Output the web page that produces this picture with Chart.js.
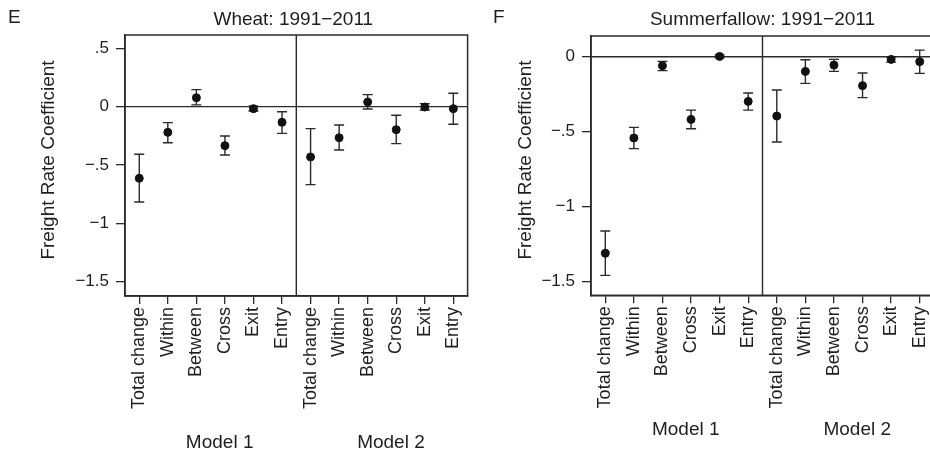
<!DOCTYPE html>
<html>
<head>
<meta charset="utf-8">
<script src="https://cdn.jsdelivr.net/npm/chart.js@4.4.1/dist/chart.umd.min.js"></script>
<style>
html,body{margin:0;padding:0;background:#fff;overflow:hidden;width:930px;height:452px;}
#wrapL{position:absolute;left:0;top:0;width:480px;height:452px;}
#wrapR{position:absolute;left:465px;top:0;width:480px;height:452px;}
</style>
</head>
<body>
<div id="wrapL"><canvas id="cL"></canvas></div>
<div id="wrapR"><canvas id="cR"></canvas></div>
<script>
// ---- data ----
const components = ['Total change','Within','Between','Cross','Exit','Entry'];
const models = ['Model 1','Model 2'];
const categories = components.concat(components);

const wheatCoef = [-0.614,-0.220, 0.077,-0.334,-0.017,-0.134, -0.431,-0.266, 0.040,-0.197,-0.003,-0.017];
const wheatLow  = [-0.817,-0.309, 0.015,-0.414,-0.037,-0.229, -0.668,-0.371,-0.020,-0.317,-0.028,-0.151];
const wheatHigh = [-0.408,-0.137, 0.146,-0.251, 0.003,-0.043, -0.188,-0.157, 0.103,-0.074, 0.026, 0.115];

const fallowCoef = [-1.311,-0.542,-0.060,-0.418, 0.002,-0.298, -0.396,-0.098,-0.056,-0.193,-0.018,-0.033];
const fallowLow  = [-1.458,-0.613,-0.093,-0.480,-0.008,-0.356, -0.569,-0.178,-0.098,-0.273,-0.036,-0.111];
const fallowHigh = [-1.162,-0.471,-0.031,-0.356, 0.012,-0.242, -0.222,-0.020,-0.018,-0.109,-0.002, 0.044];

const wheatTicks = [0.5, 0, -0.5, -1, -1.5];
const fallowTicks = [0, -0.5, -1, -1.5];

const FONT = "'Liberation Sans', Arial, Helvetica, sans-serif";
const INK = '#2a2a2a';

function fmt(v){
  if (v === 0) return '0';
  let s = Math.abs(v).toString().replace(/^0\./, '.');
  return (v < 0 ? '\u2212' : '') + s;
}

function makeChart(id, cfg){
  const errPlugin = {
    id: 'errbars_' + id,
    beforeDatasetsDraw(chart){
      const {ctx, chartArea:a, scales:{x, y}} = chart;
      ctx.save();
      ctx.strokeStyle = INK;
      ctx.lineWidth = 1.4;
      const y0 = y.getPixelForValue(0);
      ctx.beginPath(); ctx.moveTo(a.left, y0); ctx.lineTo(a.right, y0); ctx.stroke();
      const xs = x.getPixelForValue(6.5);
      ctx.beginPath(); ctx.moveTo(xs, a.top); ctx.lineTo(xs, a.bottom); ctx.stroke();
      ctx.lineWidth = 1.4;
      cfg.low.forEach((lo, i) => {
        const px = x.getPixelForValue(i + 1);
        const pl = y.getPixelForValue(lo), ph = y.getPixelForValue(cfg.high[i]);
        ctx.beginPath();
        ctx.moveTo(px, pl); ctx.lineTo(px, ph);
        ctx.moveTo(px - 5, pl); ctx.lineTo(px + 5, pl);
        ctx.moveTo(px - 5, ph); ctx.lineTo(px + 5, ph);
        ctx.stroke();
      });
      ctx.restore();
    },
    afterDraw(chart){
      const {ctx, chartArea:a, scales:{x}} = chart;
      ctx.save();
      ctx.strokeStyle = INK; ctx.lineWidth = 1.5;
      ctx.strokeRect(a.left, a.top, a.right - a.left, a.bottom - a.top);
      ctx.fillStyle = '#1e1e1e';
      ctx.font = '19px ' + FONT;
      ctx.textAlign = 'left'; ctx.textBaseline = 'middle';
      ctx.fillText(cfg.letter, cfg.letterX, 18);
      ctx.textAlign = 'center';
      ctx.fillText(cfg.title, (a.left + a.right) / 2 + cfg.titleDx, 20);
      models.forEach((m, k) => {
        ctx.fillText(m, x.getPixelForValue(3.5 + 6 * k) + 9, cfg.modelY);
      });
      ctx.translate(cfg.yTitleX, 160);
      ctx.rotate(-Math.PI / 2);
      ctx.fillText('Freight Rate Coefficient', 0, 0);
      ctx.restore();
    }
  };

  return new Chart(document.getElementById(id), {
    type: 'scatter',
    data: {
      datasets: [{
        data: cfg.coef.map((v, i) => ({x: i + 1, y: v})),
        backgroundColor: '#111',
        borderColor: '#111',
        pointRadius: 4,
        pointHoverRadius: 4
      }]
    },
    options: {
      responsive: false,
      animation: false,
      events: [],
      layout: {padding: {top: cfg.top, right: cfg.padRight, bottom: 0, left: 0}},
      plugins: {legend: {display: false}, tooltip: {enabled: false}, title: {display: false}},
      scales: {
        x: {
          type: 'linear', min: 0.5, max: 12.5,
          afterBuildTicks(s){ s.ticks = categories.map((c, i) => ({value: i + 1})); },
          afterFit(s){ s.height = 452 - cfg.bottom; },
          ticks: {
            autoSkip: false, minRotation: 90, maxRotation: 90, padding: 3,
            color: '#1e1e1e', font: {family: FONT, size: 18},
            callback: (v) => categories[Math.round(v) - 1]
          },
          grid: {drawOnChartArea: false, drawTicks: true, tickLength: 8, color: INK, lineWidth: 1.3},
          border: {display: true, color: INK, width: 1.5}
        },
        y: {
          type: 'linear', min: cfg.ymin, max: cfg.ymax,
          afterBuildTicks(s){ s.ticks = cfg.ticks.map(v => ({value: v})); },
          afterFit(s){ s.width = cfg.left; },
          ticks: {
            padding: 7, color: '#1e1e1e', font: {family: FONT, size: 17},
            callback: (v) => fmt(v)
          },
          grid: {drawOnChartArea: false, drawTicks: true, tickLength: 9, color: INK, lineWidth: 1.3},
          border: {display: true, color: INK, width: 1.5}
        }
      }
    },
    plugins: [errPlugin]
  });
}

function sizeCanvas(id){
  const c = document.getElementById(id);
  c.width = 480; c.height = 452;
  c.style.width = '480px'; c.style.height = '452px';
}
sizeCanvas('cL'); sizeCanvas('cR');

makeChart('cL', {
  coef: wheatCoef, low: wheatLow, high: wheatHigh, ticks: wheatTicks,
  ymin: -1.622, ymax: 0.614, left: 125, top: 35, bottom: 296, padRight: 12.4,
  letter: 'E', letterX: 8, title: 'Wheat: 1991\u22122011', titleDx: -3,
  modelY: 443, yTitleX: 49
});
makeChart('cR', {
  coef: fallowCoef, low: fallowLow, high: fallowHigh, ticks: fallowTicks,
  ymin: -1.591, ymax: 0.138, left: 126, top: 36, bottom: 295.3, padRight: 11,
  letter: 'F', letterX: 28, title: 'Summerfallow: 1991\u22122011', titleDx: 0,
  modelY: 430, yTitleX: 61
});
</script>
</body>
</html>
